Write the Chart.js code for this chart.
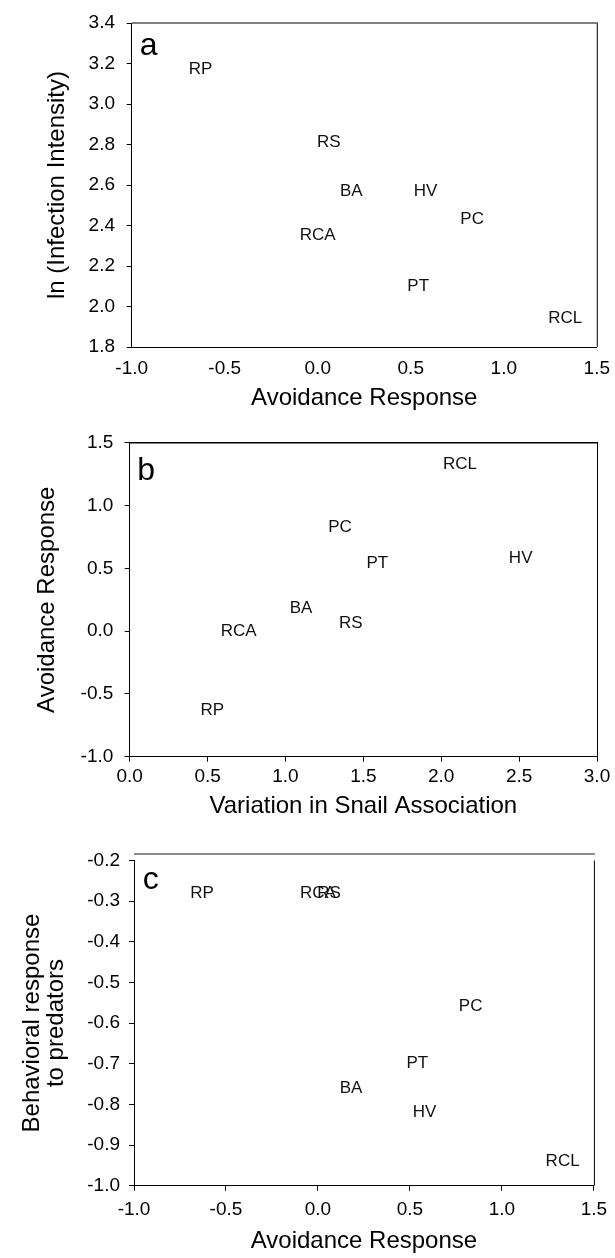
<!DOCTYPE html>
<html>
<head>
<meta charset="utf-8">
<script src="https://cdn.jsdelivr.net/npm/chart.js@4.4.1/dist/chart.umd.min.js"></script>
<style>
  html, body { margin: 0; padding: 0; background: #fff; }
  body { width: 615px; height: 1258px; position: relative; overflow: hidden; }
  canvas { position: absolute; left: 0; }
</style>
</head>
<body>
<canvas id="chartA" width="615" height="420" style="top:0"></canvas>
<canvas id="chartB" width="615" height="420" style="top:420px"></canvas>
<canvas id="chartC" width="615" height="418" style="top:840px"></canvas>
<script>
// site codes, same order in every array
const sites = ['RP', 'RS', 'BA', 'HV', 'PC', 'RCA', 'PT', 'RCL'];
const avoidance = [-0.63, 0.06, 0.18, 0.58, 0.83, 0.0, 0.54, 1.33];
const lnInfection = [3.17, 2.81, 2.57, 2.57, 2.43, 2.35, 2.10, 1.94];
const snailVariation = [0.53, 1.42, 1.10, 2.51, 1.35, 0.70, 1.59, 2.12];
const predatorResponse = [-0.28, -0.28, -0.76, -0.82, -0.56, -0.28, -0.70, -0.94];

const FAMILY = '"Liberation Sans", Arial, Helvetica, sans-serif';
const tickFont = { family: FAMILY, size: 19 };
const titleFont = { family: FAMILY, size: 24 };

const fmt = v => (Math.abs(v) < 1e-9 ? '0.0' : Number(v).toFixed(1));

// site names drawn at each point instead of markers
const siteLabels = {
  id: 'siteLabels',
  afterDatasetsDraw(chart) {
    const ctx = chart.ctx;
    const meta = chart.getDatasetMeta(0);
    ctx.save();
    ctx.font = '17px ' + FAMILY;
    ctx.fillStyle = '#111';
    ctx.textAlign = 'center';
    ctx.textBaseline = 'middle';
    meta.data.forEach((pt, i) => ctx.fillText(sites[i], pt.x, pt.y));
    ctx.restore();
  }
};

// right/top frame lines and the panel letter
const frame = {
  id: 'frame',
  afterDraw(chart, args, opts) {
    const { left, right, top, bottom } = chart.chartArea;
    const ctx = chart.ctx;
    ctx.save();
    ctx.lineWidth = 1;
    ctx.strokeStyle = '#000';
    ctx.beginPath();
    ctx.moveTo(right + 0.5, top);
    ctx.lineTo(right + 0.5, bottom);
    ctx.stroke();
    ctx.strokeStyle = opts.topColor;
    ctx.lineWidth = 1.5;
    ctx.beginPath();
    ctx.moveTo(left, top - opts.topGap);
    ctx.lineTo(right + 1, top - opts.topGap);
    ctx.stroke();
    ctx.font = '32px ' + FAMILY;
    ctx.fillStyle = '#000';
    ctx.textBaseline = 'alphabetic';
    ctx.fillText(opts.letter, left + opts.letterDx, top + opts.letterDy);
    ctx.restore();
  }
};

function xAxis(min, max, step, text, o) {
  return {
    type: 'linear', position: 'bottom', min: min, max: max,
    ticks: { stepSize: step, color: '#000', font: tickFont, padding: o.tickPad,
             callback: fmt, autoSkip: false, maxRotation: 0 },
    grid: { drawOnChartArea: false, drawTicks: true, tickLength: 5, color: o.tickColor },
    border: { display: true, color: '#000', width: 1 },
    title: { display: true, text: text, color: '#000', font: titleFont,
             padding: { top: 0, bottom: o.titlePad } },
    afterFit: s => { s.height = o.size; }
  };
}

function yAxis(min, max, step, text, o) {
  return {
    type: 'linear', position: 'left', min: min, max: max,
    ticks: { stepSize: step, color: '#000', font: tickFont, padding: o.tickPad,
             callback: fmt, autoSkip: false },
    grid: { drawOnChartArea: false, drawTicks: true, tickLength: 5, color: '#000' },
    border: { display: true, color: '#000', width: 1 },
    title: { display: true, text: text, color: '#000',
             font: Object.assign({}, titleFont, { lineHeight: o.lineHeight || 1.2 }),
             padding: { top: o.titlePad, bottom: 0 } },
    afterFit: s => { s.width = o.size; }
  };
}

function scatter(id, xs, ys, scales, padding, frameOpts) {
  return new Chart(document.getElementById(id), {
    type: 'scatter',
    data: {
      datasets: [{
        data: xs.map((x, i) => ({ x: x, y: ys[i] })),
        pointRadius: 0,
        pointHoverRadius: 0
      }]
    },
    options: {
      responsive: false,
      animation: false,
      events: [],
      layout: { padding: padding },
      plugins: { legend: { display: false }, tooltip: { enabled: false }, frame: frameOpts },
      scales: scales
    },
    plugins: [siteLabels, frame]
  });
}

// a: infection intensity vs avoidance
scatter('chartA', avoidance, lnInfection, {
  x: xAxis(-1, 1.5, 0.5, 'Avoidance Response', { tickPad: 5, titlePad: 7.6, size: 73, tickColor: 'rgba(0,0,0,0)' }),
  y: yAxis(1.8, 3.4, 0.2, 'ln (Infection Intensity)', { tickPad: 11.7, titlePad: 42.6, size: 131.7 })
}, { top: 19, right: 17, left: 0, bottom: 0 },
{ letter: 'a', letterDx: 8, letterDy: 32, topGap: 0, topColor: '#555' });

// b: avoidance vs variation in snail association
scatter('chartB', snailVariation, avoidance, {
  x: xAxis(0, 3, 0.5, 'Variation in Snail Association', { tickPad: 4, titlePad: 18.9, size: 83.3, tickColor: '#000' }),
  y: yAxis(-1, 1.5, 0.5, 'Avoidance Response', { tickPad: 11.4, titlePad: 32.6, size: 129.7 })
}, { top: 10.7, right: 18, left: 0, bottom: 0 },
{ letter: 'b', letterDx: 7.5, letterDy: 37, topGap: 0, topColor: '#000' });

// c: behavioural response to predators vs avoidance
scatter('chartC', avoidance, predatorResponse, {
  x: xAxis(-1, 1.5, 0.5, 'Avoidance Response', { tickPad: 7.9, titlePad: 1.9, size: 72.3, tickColor: '#000' }),
  y: yAxis(-1, -0.2, 0.1, ['Behavioral response', 'to predators'], { tickPad: 9, titlePad: 20.5, size: 134, lineHeight: 1.0 })
}, { top: 18.3, right: 15, left: 0, bottom: 0 },
{ letter: 'c', letterDx: 8.7, letterDy: 29, topGap: 6.5, topColor: '#666' });
</script>
</body>
</html>
